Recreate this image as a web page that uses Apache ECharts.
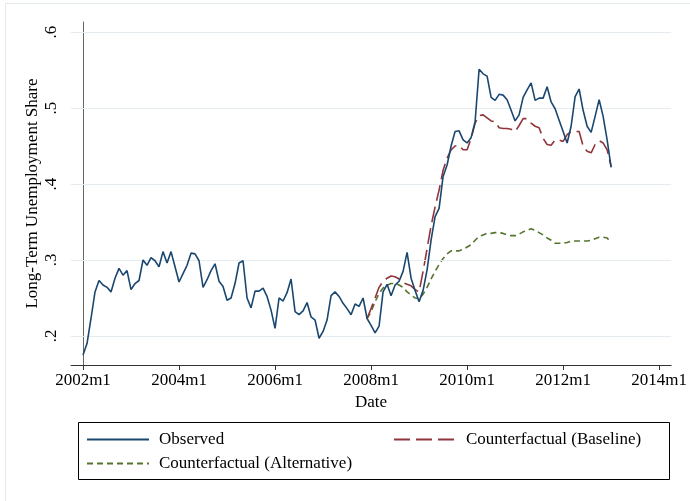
<!DOCTYPE html>
<html>
<head>
<meta charset="utf-8">
<script src="https://cdn.jsdelivr.net/npm/echarts@6/dist/echarts.min.js"></script>
<style>
html,body{margin:0;padding:0;background:#fff;}
#chart{width:690px;height:501px;}
</style>
</head>
<body>
<div id="chart"></div>
<script>
// Months are counted from 2002m1 (= 0)
const observedStart = 0;
const observed = [
0.175,0.190,0.223,0.258,0.273,0.267,0.264,0.258,0.276,0.289,0.280,0.286,
0.261,0.269,0.273,0.300,0.293,0.303,0.299,0.291,0.311,0.296,0.311,0.291,
0.271,0.282,0.293,0.309,0.308,0.299,0.264,0.274,0.286,0.295,0.272,0.265,
0.247,0.250,0.269,0.296,0.299,0.250,0.237,0.259,0.259,0.263,0.252,0.234,
0.210,0.250,0.246,0.257,0.275,0.232,0.228,0.233,0.244,0.225,0.221,0.197,
0.206,0.221,0.253,0.258,0.252,0.243,0.236,0.228,0.242,0.239,0.250,0.223,
0.214,0.204,0.213,0.258,0.268,0.253,0.267,0.272,0.285,0.310,0.276,0.260,
0.245,0.260,0.287,0.326,0.357,0.368,0.410,0.425,0.450,0.469,0.470,0.458,
0.454,0.461,0.482,0.551,0.545,0.542,0.514,0.510,0.518,0.517,0.511,0.497,
0.483,0.491,0.514,0.524,0.533,0.510,0.513,0.513,0.528,0.508,0.499,0.484,
0.469,0.454,0.476,0.515,0.525,0.497,0.476,0.468,0.489,0.511,0.489,0.458,
0.422
];
const counterfactualStart = 71; // 2007m12
const baseline = [
0.223,0.236,0.250,0.264,0.272,0.276,0.279,0.278,0.275,0.270,0.268,0.266,
0.261,0.258,0.285,0.315,0.345,0.370,0.392,0.418,0.434,0.445,0.450,0.451,
0.445,0.445,0.460,0.480,0.490,0.491,0.487,0.483,0.482,0.474,0.473,0.473,
0.472,0.469,0.477,0.486,0.486,0.480,0.476,0.474,0.460,0.452,0.451,0.458,
0.458,0.456,0.465,0.469,0.469,0.469,0.450,0.443,0.441,0.452,0.457,0.454,
0.445,0.423
];
const alternative = [
0.223,0.232,0.245,0.256,0.263,0.267,0.269,0.269,0.267,0.264,0.258,0.254,
0.250,0.249,0.255,0.264,0.275,0.285,0.294,0.302,0.308,0.312,0.312,0.312,
0.314,0.317,0.320,0.326,0.331,0.333,0.335,0.335,0.336,0.336,0.335,0.333,
0.332,0.332,0.334,0.337,0.339,0.341,0.339,0.336,0.333,0.329,0.326,0.322,
0.322,0.322,0.323,0.325,0.325,0.325,0.325,0.325,0.326,0.328,0.330,0.330,
0.329,0.323
];
const xTicks = [0,24,48,72,96,120,144];
const yTicks = [0.2,0.3,0.4,0.5,0.6];
const seriesNames = ['Observed','Counterfactual (Baseline)','Counterfactual (Alternative)'];

function pairs(arr, start){ return arr.map((v,i)=>[start+i, v]); }
function monthLabel(v){ const y = 2002 + Math.floor(v/12); const m = (v%12)+1; return y + 'm' + m; }

const FONT = '"Liberation Serif","DejaVu Serif",serif';
const legendCommon = {
  orient:'vertical', top:426, itemWidth:62, itemHeight:12, itemGap:7,
  itemStyle:{opacity:0},
  textStyle:{fontFamily:FONT, fontSize:17, color:'#000', padding:[0,0,0,5]}
};
const chart = echarts.init(document.getElementById('chart'), null, {renderer:'canvas'});
chart.setOption({
  backgroundColor:'#fff',
  animation:false,
  grid:{left:71, right:15, top:22, bottom:136},
  xAxis:{
    type:'value', min:-3, max:147,
    axisLine:{show:true, lineStyle:{color:'#333', width:1}},
    axisTick:{show:true, customValues:xTicks, length:5, lineStyle:{color:'#333'}},
    axisLabel:{customValues:xTicks, formatter:monthLabel, fontFamily:FONT, fontSize:17, color:'#000', margin:7},
    splitLine:{show:false},
    name:'Date', nameLocation:'middle', nameGap:29, nameMoveOverlap:false,
    nameTextStyle:{fontFamily:FONT, fontSize:17, color:'#000'}
  },
  yAxis:{
    type:'value', min:0.1618, max:0.6132,
    axisLine:{show:true, lineStyle:{color:'#666', width:1}},
    axisTick:{show:true, customValues:yTicks, length:5, lineStyle:{color:'#444'}},
    axisLabel:{customValues:yTicks, rotate:90, formatter:v=>'.'+Math.round(v*10), fontFamily:FONT, fontSize:17, color:'#000', margin:11},
    splitLine:{show:false},
    name:'Long-Term Unemployment Share', nameLocation:'middle', nameGap:30, nameMoveOverlap:false,
    nameTextStyle:{fontFamily:FONT, fontSize:17, color:'#000'}
  },
  legend:[
    Object.assign({data:[seriesNames[0], seriesNames[2]], left:81}, legendCommon),
    Object.assign({data:[seriesNames[1]], left:388}, legendCommon)
  ],
  graphic:[
    {type:'rect', shape:{x:5.5, y:3.5, width:720, height:520}, style:{fill:'none', stroke:'#e3eaee', lineWidth:1}, silent:true, z:-1},
    {type:'rect', shape:{x:78.5, y:422.5, width:591, height:57}, style:{fill:'none', stroke:'#000', lineWidth:1}, silent:true}
  ],
  series:[
    {name:'grid', type:'line', data:[], z:0, silent:true,
     markLine:{silent:true, symbol:'none', label:{show:false}, lineStyle:{color:'#e4ecf0', type:'solid', width:1.2},
       data: yTicks.map(v=>({yAxis:v}))}},
    {name:seriesNames[2], type:'line', data:pairs(alternative, counterfactualStart), showSymbol:false, symbol:'none', z:3,
     lineStyle:{color:'#55752f', width:1.6, type:[6,4]}, itemStyle:{color:'#55752f'}},
    {name:seriesNames[1], type:'line', data:pairs(baseline, counterfactualStart), showSymbol:false, symbol:'none', z:4,
     lineStyle:{color:'#90353b', width:1.6, type:[16,6]}, itemStyle:{color:'#90353b'}},
    {name:seriesNames[0], type:'line', data:pairs(observed, observedStart), showSymbol:false, symbol:'none', z:5,
     lineStyle:{color:'#1a476f', width:1.6}, itemStyle:{color:'#1a476f'}}
  ]
});
</script>
</body>
</html>
